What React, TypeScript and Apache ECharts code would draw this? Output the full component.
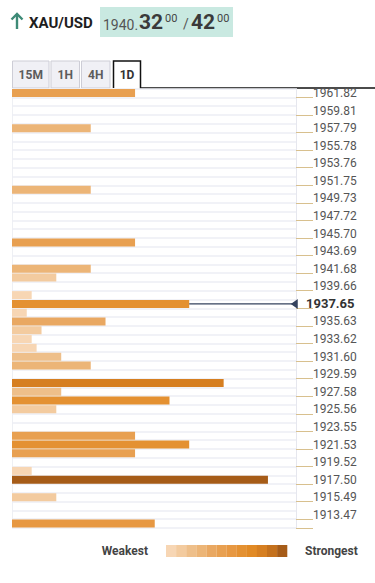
import React, { useEffect, useRef } from "react";
import * as echarts from "echarts";

const levelLabels = [
  "1961.82", "1959.81", "1957.79", "1955.78", "1953.76", "1951.75", "1949.73",
  "1947.72", "1945.70", "1943.69", "1941.68", "1939.66", "1937.65", "1935.63",
  "1933.62", "1931.60", "1929.59", "1927.58", "1925.56", "1923.55", "1921.53",
  "1919.52", "1917.50", "1915.49", "1913.47",
];
const rowCount = 50;
const barRows = [0, 4, 11, 17, 20, 21, 23, 24, 25, 26, 27, 28, 29, 30, 31, 33, 34, 35, 36, 39, 40, 41, 43, 44, 46, 49];
const barStrengths = [25, 16, 16, 25, 16, 9, 4, 36, 3, 19, 6, 4, 5, 10, 16, 43, 10, 32, 9, 25, 36, 25, 4, 52, 9, 29];
const currentRow = 24;
const currentPrice = "1937.65";
const palette = [
  "#f7d6b4", "#f3cb9f", "#eebf8a", "#ecb577", "#e9a862", "#e8a051",
  "#e79842", "#e49132", "#e18a25", "#d67f21", "#c4711d", "#a65c18",
];
const FONT = "Roboto, sans-serif";

function colorFor(s: number) {
  const i = Math.max(0, Math.min(11, Math.round(((s - 3) / 49) * 11)));
  return palette[i];
}

export default function App() {
  const ref = useRef<HTMLDivElement>(null);
  useEffect(() => {
    if (!ref.current) return;
    const chart = echarts.init(ref.current, null, { renderer: "svg" });
    const categories = Array.from({ length: rowCount }, (_, i) => "r" + i);
    const barData = categories.map(() => null as any);
    barRows.forEach((r, k) => {
      barData[r] = { value: barStrengths[k], itemStyle: { color: colorFor(barStrengths[k]) } };
    });
    const curStrength = barStrengths[barRows.indexOf(currentRow)];
    const xMax = 57.7;

    const graphics: any[] = [];
    const mid = (x: number, y: number, text: string, font: string, fill: string, align = "left") => ({
      type: "text", x, y, style: { text, font, fill, align, verticalAlign: "middle" },
    });
    // header arrow
    graphics.push({ type: "line", shape: { x1: 17, y1: 29, x2: 17, y2: 14 }, style: { stroke: "#3d8a76", lineWidth: 2.4 } });
    graphics.push({ type: "polyline", shape: { points: [[11.5, 19.5], [17, 14], [22.5, 19.5]] }, style: { stroke: "#3d8a76", lineWidth: 2.4, fill: null } });
    graphics.push(mid(29, 22.5, "XAU/USD", `bold 15px ${FONT}`, "#1e1e1e"));
    graphics.push({ type: "rect", shape: { x: 100, y: 7, width: 133, height: 30 }, style: { fill: "#c9e9e1" } });
    graphics.push(mid(103, 24.5, "1940.", `14px ${FONT}`, "#555"));
    graphics.push(mid(139, 22, "32", `bold 21px ${FONT}`, "#3a3a3a"));
    graphics.push(mid(165, 18, "00", `11px ${FONT}`, "#444"));
    graphics.push(mid(183, 24, "/", `14px ${FONT}`, "#555"));
    graphics.push(mid(191, 22, "42", `bold 21px ${FONT}`, "#3a3a3a"));
    graphics.push(mid(217, 18, "00", `11px ${FONT}`, "#444"));

    // tabs
    const tabs = [
      { t: "15M", x: 12.5, w: 36.5 },
      { t: "1H", x: 51, w: 28.5 },
      { t: "4H", x: 81.5, w: 28.5 },
    ];
    tabs.forEach((tb) => {
      graphics.push({ type: "rect", shape: { x: tb.x, y: 61, width: tb.w, height: 27 }, style: { fill: "#f0f0f5", stroke: "#cdcdd6", lineWidth: 1 } });
      graphics.push(mid(tb.x + tb.w / 2, 75, tb.t, `bold 12px ${FONT}`, "#5c5c5c", "center"));
    });
    graphics.push({ type: "polyline", shape: { points: [[113.5, 88], [113.5, 61], [140.5, 61], [140.5, 88], [375, 88]] }, style: { stroke: "#111", lineWidth: 1.5, fill: null } });
    graphics.push(mid(127, 75, "1D", `bold 12px ${FONT}`, "#333", "center"));

    // left border
    graphics.push({ type: "line", shape: { x1: 12.5, y1: 89, x2: 12.5, y2: 528 }, style: { stroke: "#eef0f4", lineWidth: 1 } });

    // legend
    graphics.push(mid(148, 551, "Weakest", `bold 12px ${FONT}`, "#444", "right"));
    palette.forEach((c, i) => {
      graphics.push({ type: "rect", shape: { x: 166 + i * 10.1, y: 545, width: 10.2, height: 12 }, style: { fill: c } });
    });
    graphics.push(mid(305, 551, "Strongest", `bold 12px ${FONT}`, "#444"));

    chart.setOption({
      animation: false,
      grid: { left: 12, right: 79, top: 88.6, bottom: 55, containLabel: false },
      xAxis: {
        type: "value",
        min: 0,
        max: xMax,
        show: false,
      },
      yAxis: {
        type: "category",
        data: categories,
        inverse: true,
        position: "right",
        axisLine: { show: true, onZero: false, lineStyle: { color: "#e6e7ee", width: 1 } },
        axisTick: {
          show: true,
          interval: (index: number) => index % 2 === 1,
          length: 17,
          lineStyle: { color: "#d8c08e", width: 1 },
        },
        axisLabel: {
          interval: 1,
          margin: 10,
          fontFamily: FONT,
          formatter: (_v: string, index: number) => {
            const lab = levelLabels[index / 2];
            if (lab === undefined) return "";
            return lab === currentPrice ? `{cur|${lab}}` : `{n|${lab}}`;
          },
          rich: {
            n: { fontSize: 12, color: "#555", fontFamily: FONT, padding: [0, 0, 0, 7] },
            cur: { fontSize: 13, fontWeight: "bold", color: "#333", fontFamily: FONT },
          },
        },
        splitLine: { show: true, interval: 0, lineStyle: { color: "#eceef4", width: 1.6 } },
      },
      series: [
        {
          type: "bar",
          data: barData,
          barWidth: 8,
          silent: true,
        },
        {
          type: "line",
          silent: true,
          data: [
            { value: [curStrength, currentRow], symbol: "none" },
            { value: [57.35, currentRow], symbol: "path://M0,5L8,0L8,10Z", symbolSize: [7, 10] },
          ],
          lineStyle: { color: "#34425e", width: 1.2 },
          itemStyle: { color: "#34425e" },
          showSymbol: true,
          z: 5,
        },
      ],
      graphic: graphics,
    });
    return () => chart.dispose();
  }, []);
  return <div ref={ref} style={{ position: "absolute", left: 0, top: 0, width: 375, height: 583 }} />;
}
